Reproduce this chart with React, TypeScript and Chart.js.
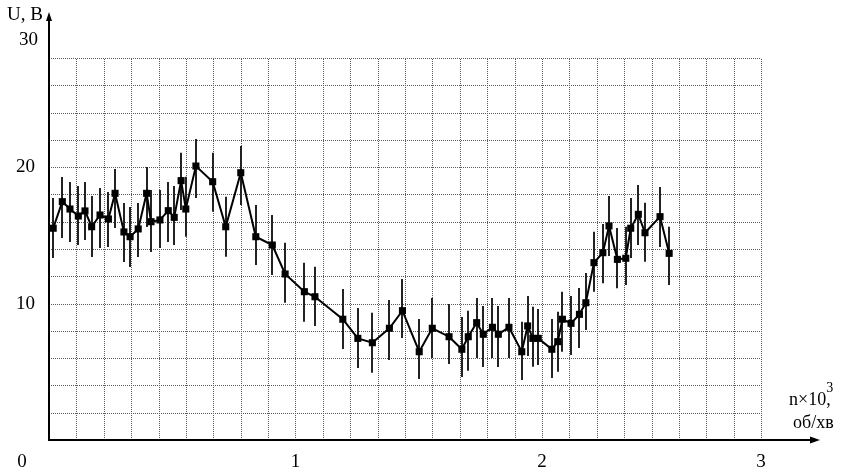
import { useEffect, useRef } from "react";
import { Chart, registerables } from "chart.js";

Chart.register(...registerables);

// n × 10^3, об/хв
const nValues = [
  0.017, 0.054, 0.085, 0.119, 0.146, 0.173, 0.207, 0.241, 0.268, 0.304, 0.329, 0.362, 0.396, 0.414,
  0.45, 0.484, 0.508, 0.536, 0.555, 0.596, 0.664, 0.717, 0.778, 0.839, 0.906, 0.958, 1.036, 1.079,
  1.192, 1.253, 1.312, 1.381, 1.434, 1.502, 1.555, 1.623, 1.675, 1.701, 1.735, 1.762, 1.799, 1.823,
  1.866, 1.918, 1.942, 1.963, 1.985, 2.04, 2.064, 2.083, 2.118, 2.152, 2.178, 2.211, 2.247, 2.272,
  2.306, 2.34, 2.36, 2.391, 2.418, 2.479, 2.516,
];
// U, В
const uValues = [
  15.52, 17.47, 16.93, 16.42, 16.79, 15.63, 16.49, 16.2, 18.08, 15.25, 14.9, 15.47, 18.08, 16.0,
  16.13, 16.81, 16.32, 19.01, 16.93, 20.08, 18.93, 15.63, 19.59, 14.9, 14.29, 12.17, 10.87, 10.5,
  8.85, 7.45, 7.13, 8.19, 9.48, 6.47, 8.19, 7.57, 6.65, 7.57, 8.6, 7.75, 8.26, 7.75,
  8.26, 6.47, 8.36, 7.45, 7.45, 6.65, 7.21, 8.85, 8.55, 9.21, 10.06, 13.0, 13.73, 15.69,
  13.24, 13.32, 15.52, 16.54, 15.19, 16.37, 13.68,
];
const uHigh = [
  17.74, 19.28, 18.91, 18.62, 18.91, 17.88, 18.47, 18.18, 19.86, 17.37, 17.08, 17.37, 20.01, 18.33,
  18.33, 18.91, 18.62, 21.06, 19.3, 22.06, 21.06, 17.83, 21.55, 17.22, 16.49, 14.46, 13.0, 12.7,
  11.07, 9.68, 9.33, 10.26, 11.8, 8.87, 10.41, 9.97, 9.02, 9.48, 10.41, 9.82, 10.41, 9.82,
  10.41, 8.67, 10.55, 9.77, 9.6, 8.87, 9.4, 10.87, 10.55, 11.14, 12.24, 15.27, 15.83, 17.88,
  15.54, 15.63, 17.74, 18.69, 17.39, 18.54, 15.63,
];
const uLow = [
  13.34, 14.81, 14.51, 14.29, 14.66, 13.41, 14.07, 14.15, 15.54, 13.05, 12.68, 13.41, 15.61, 13.78,
  14.07, 14.51, 14.29, 16.86, 14.9, 17.74, 16.73, 13.44, 17.22, 12.83, 12.09, 10.06, 8.67, 8.36,
  6.67, 5.28, 4.93, 5.86, 7.48, 4.47, 6.01, 5.57, 4.62, 5.08, 6.01, 5.35, 6.01, 5.35,
  6.01, 4.4, 6.16, 5.37, 5.5, 4.54, 5.01, 6.47, 6.23, 6.74, 8.06, 10.87, 11.49, 13.49,
  11.12, 11.36, 13.34, 14.29, 13.07, 14.15, 11.36,
];

const xTickValues = [1, 2, 26 / 9];
const xTickLabels = ["1", "2", "3"];
const yTickValues = [10, 20];
const yTickLabels = ["10", "20"];
const yTopLabel = "30";

const X_STEP = 1 / 9;
const X_GRID_COUNT = 26;
const Y_STEP = 2;
const Y_GRID_MAX = 28;
const X_MAX = 3.128;
const Y_MAX = 31.37;

const FONT = '"Liberation Serif", "Times New Roman", serif';

const decorPlugin = {
  id: "decor",
  beforeDatasetsDraw(chart: any) {
    const { ctx, scales } = chart;
    const x = scales.x;
    const y = scales.y;
    ctx.save();
    const x0 = x.getPixelForValue(0);
    const x1 = x.getPixelForValue(X_GRID_COUNT * X_STEP);
    const y0 = y.getPixelForValue(0);
    const y1 = y.getPixelForValue(Y_GRID_MAX);
    ctx.strokeStyle = "#5a5a5a";
    ctx.lineWidth = 1;
    ctx.setLineDash([1, 1]);
    for (let v = Y_STEP; v <= Y_GRID_MAX + 1e-6; v += Y_STEP) {
      const py = Math.round(y.getPixelForValue(v)) + 0.5;
      ctx.beginPath();
      ctx.moveTo(x0, py);
      ctx.lineTo(x1, py);
      ctx.stroke();
    }
    for (let k = 1; k <= X_GRID_COUNT; k++) {
      const px = Math.round(x.getPixelForValue(k * X_STEP)) + 0.5;
      ctx.beginPath();
      ctx.moveTo(px, y0);
      ctx.lineTo(px, y1);
      ctx.stroke();
    }
    // error bars
    ctx.setLineDash([]);
    ctx.strokeStyle = "#222";
    ctx.lineWidth = 2;
    nValues.forEach((n, i) => {
      const px = Math.round(x.getPixelForValue(n));
      ctx.beginPath();
      ctx.moveTo(px, y.getPixelForValue(uLow[i]));
      ctx.lineTo(px, y.getPixelForValue(uHigh[i]));
      ctx.stroke();
    });
    ctx.restore();
  },
  afterDraw(chart: any) {
    const { ctx, chartArea, scales } = chart;
    const x = scales.x;
    const y = scales.y;
    const ox = x.getPixelForValue(0);
    const oy = y.getPixelForValue(0);
    ctx.save();
    ctx.strokeStyle = "#000";
    ctx.fillStyle = "#000";
    ctx.lineWidth = 2;
    // x axis
    ctx.beginPath();
    ctx.moveTo(ox - 1, oy);
    ctx.lineTo(chartArea.right - 8, oy);
    ctx.stroke();
    ctx.beginPath();
    ctx.moveTo(chartArea.right, oy);
    ctx.lineTo(chartArea.right - 10, oy - 3.5);
    ctx.lineTo(chartArea.right - 10, oy + 3.5);
    ctx.closePath();
    ctx.fill();
    // y axis
    ctx.beginPath();
    ctx.moveTo(ox, oy + 1);
    ctx.lineTo(ox, chartArea.top + 7);
    ctx.stroke();
    ctx.beginPath();
    ctx.moveTo(ox, chartArea.top);
    ctx.lineTo(ox - 3, chartArea.top + 9);
    ctx.lineTo(ox + 3, chartArea.top + 9);
    ctx.closePath();
    ctx.fill();

    // texts
    ctx.font = `19px ${FONT}`;
    ctx.textBaseline = "middle";
    ctx.textAlign = "left";
    ctx.fillText("U, В", ox - 42, chartArea.top + 3);
    ctx.textAlign = "right";
    ctx.fillText(yTopLabel, ox - 11, chartArea.top + 28);
    ctx.textAlign = "center";
    ctx.fillText("0", ox - 27, oy + 22);

    ctx.textAlign = "left";
    ctx.textBaseline = "alphabetic";
    ctx.font = `18px ${FONT}`;
    const tx = chartArea.right - 31;
    const main = "n×10";
    ctx.fillText(main, tx, oy - 35);
    const w = ctx.measureText(main).width;
    ctx.fillText(",", tx + w, oy - 35);
    ctx.font = `14px ${FONT}`;
    ctx.fillText("3", tx + w, oy - 48);
    ctx.font = `18px ${FONT}`;
    ctx.fillText("об/хв", tx + 4, oy - 12);
    ctx.restore();
  },
};

export default function App() {
  const canvasRef = useRef<HTMLCanvasElement | null>(null);

  useEffect(() => {
    if (!canvasRef.current) return;
    const chart = new Chart(canvasRef.current, {
      type: "line",
      data: {
        datasets: [
          {
            data: nValues.map((n, i) => ({ x: n, y: uValues[i] })),
            borderColor: "#000",
            borderWidth: 2,
            pointStyle: "rect",
            pointRadius: 5,
            pointBackgroundColor: "#000",
            pointBorderColor: "#000",
            pointBorderWidth: 0,
            tension: 0,
          },
        ],
      },
      options: {
        animation: false,
        responsive: false,
        devicePixelRatio: 1,
        layout: { padding: { top: 12, right: 22, left: 0, bottom: 0 } },
        plugins: { legend: { display: false }, tooltip: { enabled: false } },
        scales: {
          x: {
            type: "linear",
            min: 0,
            max: X_MAX,
            grid: { display: false, drawTicks: false, tickLength: 0 },
            border: { display: false },
            afterBuildTicks: (s: any) => {
              s.ticks = xTickValues.map((v) => ({ value: v }));
            },
            afterFit: (s: any) => {
              s.height = 32;
              s.paddingLeft = 0;
              s.paddingRight = 0;
            },
            ticks: {
              autoSkip: false,
              maxRotation: 0,
              padding: 11,
              color: "#000",
              font: { family: FONT, size: 19 },
              callback: (v: any) => {
                const i = xTickValues.findIndex((t) => Math.abs(t - Number(v)) < 1e-6);
                return i >= 0 ? xTickLabels[i] : "";
              },
            },
          },
          y: {
            type: "linear",
            min: 0,
            max: Y_MAX,
            grid: { display: false, drawTicks: false, tickLength: 0 },
            border: { display: false },
            afterBuildTicks: (s: any) => {
              s.ticks = yTickValues.map((v) => ({ value: v }));
            },
            afterFit: (s: any) => {
              s.width = 49;
              s.paddingTop = 0;
              s.paddingBottom = 0;
            },
            ticks: {
              autoSkip: false,
              padding: 14,
              color: "#000",
              font: { family: FONT, size: 19 },
              callback: (v: any) => {
                const i = yTickValues.findIndex((t) => Math.abs(t - Number(v)) < 1e-6);
                return i >= 0 ? yTickLabels[i] : "";
              },
            },
          },
        },
      },
      plugins: [decorPlugin],
    });
    return () => chart.destroy();
  }, []);

  return (
    <div style={{ position: "fixed", left: 0, top: 0, width: 842, height: 472, background: "#fff" }}>
      <canvas ref={canvasRef} width={842} height={472} />
    </div>
  );
}
